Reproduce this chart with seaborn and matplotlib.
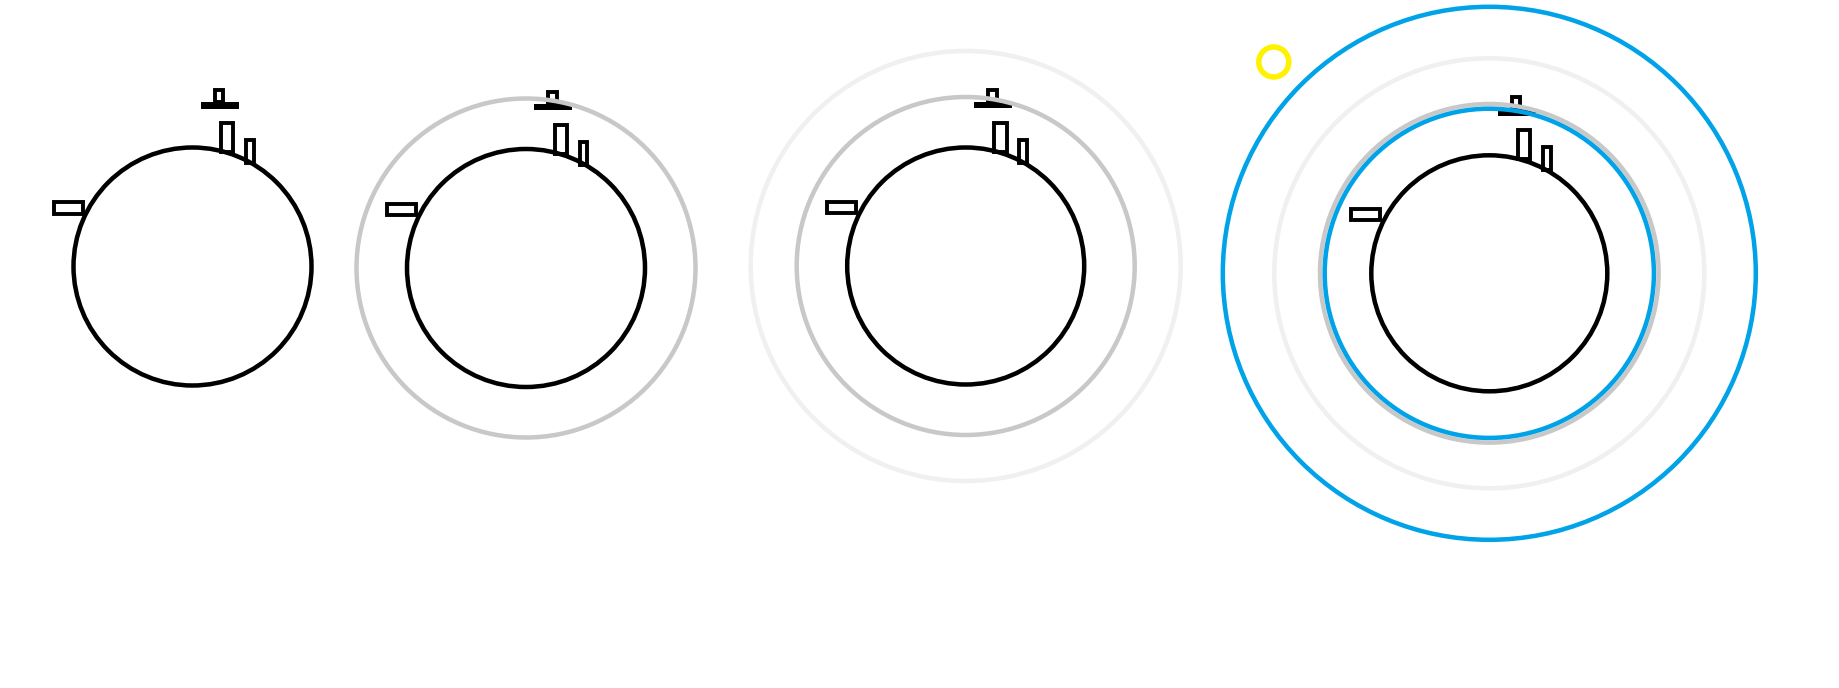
import matplotlib
matplotlib.use("Agg")
import matplotlib.pyplot as plt
from matplotlib.patches import Circle, Rectangle
import seaborn as sns

# ---------------- data ----------------
# panel (planet) centres in pixel space of the 1839x688 canvas
panel_cx = [192.5, 526.0, 965.7, 1489.3]
panel_cy = [266.5, 268.0, 266.0, 273.3]
planet_radius = [119.0, 119.0, 118.5, 118.0]

# orbit rings per panel: (radius, colour key)
panel_rings = [
    [],
    [(169.5, "gray")],
    [(169.0, "gray"), (215.0, "light")],
    [(169.3, "gray"), (164.6, "blue"), (215.0, "light"), (266.5, "blue")],
]

# small "buildings" on the planet, offsets relative to planet centre:
# (dx0, dx1, dy_top, dy_bottom, filled)
building_dx0 = [8.5, 22.5, 28.7, 53.6, -138.5]
building_dx1 = [46.5, 31.0, 41.0, 61.5, -109.7]
building_dy0 = [-164.2, -176.5, -143.3, -126.3, -64.3]
building_dy1 = [-157.8, -164.5, -114.5, -103.5, -53.0]
building_filled = [True, False, False, False, False]

# small yellow object in the last panel
sun_x = [1273.8]
sun_y = [62.0]
sun_r = [15.0]

colors = {
    "black": "#000000",
    "gray": "#c8c8c8",
    "light": "#f0f0f0",
    "blue": "#00a2e8",
    "yellow": "#fff200",
}

W, H, DPI = 1839, 688, 100
LW = 4.5 * 72 / DPI  # ~4.5 px strokes

sns.set_theme(style="white")
fig = plt.figure(figsize=(W / DPI, H / DPI), dpi=DPI)
ax = fig.add_axes([0, 0, 1, 1])
ax.set_xlim(0, W)
ax.set_ylim(H, 0)
ax.set_aspect("equal")
ax.axis("off")
fig.patch.set_facecolor("white")

for i in range(len(panel_cx)):
    cx, cy = panel_cx[i], panel_cy[i]
    ax.add_patch(Circle((cx, cy), planet_radius[i], fill=False,
                        edgecolor=colors["black"], lw=LW, zorder=2))
    for j in range(len(building_dx0)):
        x0 = cx + building_dx0[j]
        x1 = cx + building_dx1[j]
        y0 = cy + building_dy0[j]
        y1 = cy + building_dy1[j]
        if building_filled[j]:
            ax.add_patch(Rectangle((x0, y0), x1 - x0, y1 - y0,
                                   facecolor="black", edgecolor="none", zorder=2))
        else:
            ax.add_patch(Rectangle((x0, y0), x1 - x0, y1 - y0, fill=False,
                                   edgecolor="black", lw=3.0 * 72 / DPI * 1.3,
                                   joinstyle="miter", zorder=2))
    for k, (r, ck) in enumerate(panel_rings[i]):
        ax.add_patch(Circle((cx, cy), r, fill=False, edgecolor=colors[ck],
                            lw=LW, zorder=3 + (1 if ck == "blue" else 0)))

for x, y, r in zip(sun_x, sun_y, sun_r):
    ax.add_patch(Circle((x, y), r, fill=False, edgecolor=colors["yellow"],
                        lw=5.5 * 72 / DPI, zorder=5))

fig.savefig("out.png", dpi=DPI, facecolor="white")
